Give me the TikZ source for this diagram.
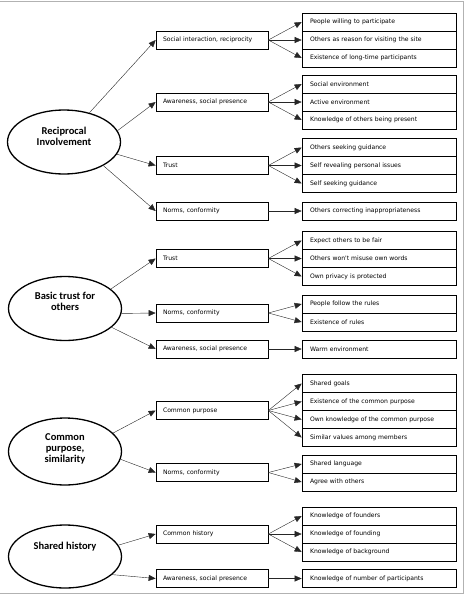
\documentclass[tikz,border=0pt]{standalone}
\usepackage{fontspec}
\newfontfamily\boxfont{DejaVu Sans}
\newfontfamily\ellfont{Carlito}
\usetikzlibrary{arrows.meta,shapes.geometric}
\begin{document}
\begin{tikzpicture}[x=1pt,y=-1pt,
  midbox/.style={draw,line width=0.7pt,minimum height=18pt,text width=98pt,inner xsep=7pt,inner ysep=0pt,align=left,font=\boxfont\fontsize{6.1}{7}\selectfont},
  leafbox/.style={midbox,text width=138pt,inner xsep=8pt},
  bubble/.style={draw,ellipse,line width=1.3pt,minimum width=113pt,minimum height=64pt,inner sep=0pt},
  bubtext/.style={align=center,inner sep=0pt,font=\ellfont\bfseries\fontsize{10.5}{11}\selectfont},
  conn/.style={line width=0.4pt,black!85,-{Triangle[length=7pt,width=6pt]}},
]
\useasboundingbox (0,0) rectangle (467,597);
\draw[gray!60,line width=0.9pt] (0,1) -- (463,1) -- (463,593) -- (0,593);

% ellipses
\node[bubble] (e1) at (64,142) {};
\node[bubtext] (t1) at (64,136) {Reciprocal\\Involvement};
\node[bubble] (e2) at (65,308.5) {};
\node[bubtext] (t2) at (65,301) {Basic trust for\\others};
\node[bubble,minimum height=67pt] (e3) at (65,451.5) {};
\node[bubtext] (t3) at (65,449) {Common\\purpose,\\similarity};
\node[bubble,minimum height=63pt] (e4) at (65,556.5) {};
\node[bubtext] (t4) at (65,547) {Shared history};

% middle boxes
\node[midbox] (m1) at (212,40) {Social interaction, reciprocity};
\node[midbox] (m2) at (212,102) {Awareness, social presence};
\node[midbox] (m3) at (212,165.5) {Trust};
\node[midbox] (m4) at (212,211) {Norms, conformity};
\node[midbox] (m5) at (212,258.5) {Trust};
\node[midbox] (m6) at (212,313) {Norms, conformity};
\node[midbox] (m7) at (212,349) {Awareness, social presence};
\node[midbox] (m8) at (212,410.5) {Common purpose};
\node[midbox] (m9) at (212,472.5) {Norms, conformity};
\node[midbox] (m10) at (212,534) {Common history};
\node[midbox] (m11) at (212,578.5) {Awareness, social presence};

% leaf boxes
\node[leafbox] (a1) at (379,22) {People willing to participate};
\node[leafbox] (a2) at (379,40) {Others as reason for visiting the site};
\node[leafbox] (a3) at (379,58) {Existence of long-time participants};
\node[leafbox] (b1) at (379,84) {Social environment};
\node[leafbox] (b2) at (379,102) {Active environment};
\node[leafbox] (b3) at (379,120) {Knowledge of others being present};
\node[leafbox] (c1) at (379,147.5) {Others seeking guidance};
\node[leafbox] (c2) at (379,165.5) {Self revealing personal issues};
\node[leafbox] (c3) at (379,183.5) {Self seeking guidance};
\node[leafbox] (d1) at (379,211) {Others correcting inappropriateness};
\node[leafbox] (f1) at (379,240.5) {Expect others to be fair};
\node[leafbox] (f2) at (379,258.5) {Others won't misuse own words};
\node[leafbox] (f3) at (379,276.5) {Own privacy is protected};
\node[leafbox] (g1) at (379,304) {People follow the rules};
\node[leafbox] (g2) at (379,322) {Existence of rules};
\node[leafbox] (h1) at (379,349) {Warm environment};
\node[leafbox] (i1) at (379,383.5) {Shared goals};
\node[leafbox] (i2) at (379,401.5) {Existence of the common purpose};
\node[leafbox] (i3) at (379,419.5) {Own knowledge of the common purpose};
\node[leafbox] (i4) at (379,437.5) {Similar values among members};
\node[leafbox] (j1) at (379,464) {Shared language};
\node[leafbox] (j2) at (379,482) {Agree with others};
\node[leafbox] (k1) at (379,516) {Knowledge of founders};
\node[leafbox] (k2) at (379,534) {Knowledge of founding};
\node[leafbox] (k3) at (379,552) {Knowledge of background};
\node[leafbox] (l1) at (379,578.5) {Knowledge of number of participants};

% ellipse -> middle
\draw[conn] (e1.49) -- (m1.west);
\draw[conn] (e1.12) -- (m2.west);
\draw[conn] (e1.-13) -- (m3.west);
\draw[conn] (e1.-31) -- (m4.west);
\draw[conn] (e2.23) -- (m5.west);
\draw[conn] (e2.-5) -- (m6.west);
\draw[conn] (e2.-22) -- (m7.west);
\draw[conn] (e3.21) -- (m8.west);
\draw[conn] (e3.-8) -- (m9.west);
\draw[conn] (e4.12) -- (m10.west);
\draw[conn] (e4.-21) -- (m11.west);

% middle -> leaves
\foreach \m/\l in {m1/a1,m1/a2,m1/a3,m2/b1,m2/b2,m2/b3,m3/c1,m3/c2,m3/c3,m4/d1,
  m5/f1,m5/f2,m5/f3,m6/g1,m6/g2,m7/h1,m8/i1,m8/i2,m8/i3,m8/i4,m9/j1,m9/j2,
  m10/k1,m10/k2,m10/k3,m11/l1}
  \draw[conn] (\m.east) -- (\l.west);
\end{tikzpicture}
\end{document}
